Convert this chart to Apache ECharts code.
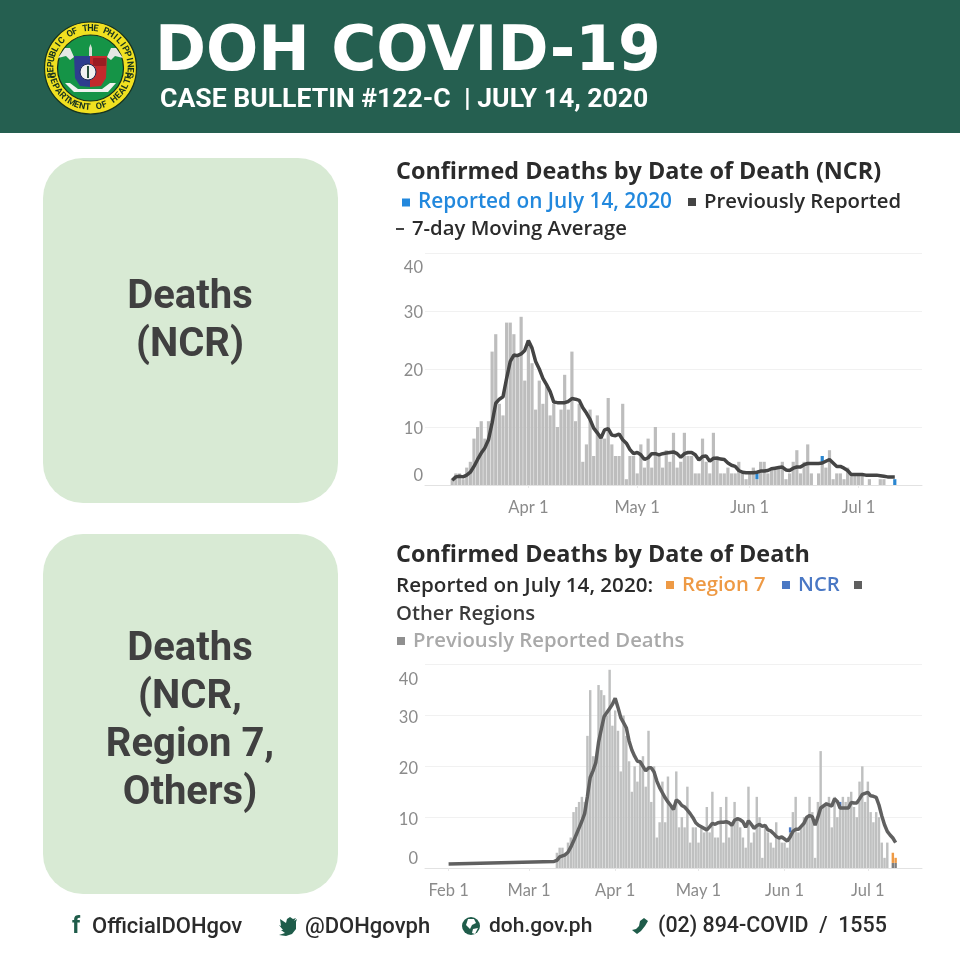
<!DOCTYPE html>
<html><head><meta charset="utf-8">
<style>html,body{margin:0;padding:0;background:#fff}#c{width:960px;height:960px}</style>
<script src="https://cdn.jsdelivr.net/npm/echarts@6/dist/echarts.min.js"></script>
</head><body><div id="c"></div>
<script>
// ---------- data (both series start on Mar 11) ----------
const yTicks = [0, 10, 20, 30, 40];
const tickLabelsNcr = ['Apr 1', 'May 1', 'Jun 1', 'Jul 1'];
const tickLabelsAll = ['Feb 1', 'Mar 1', 'Apr 1', 'May 1', 'Jun 1', 'Jul 1'];

const ncrPrevious = [1,2,2,1,3,4,8,10,11,8,11,23,26,14,12,28,28,26,22,29,18,25,21,13,18,14,17,12,14,10,
  13,19,13,23,11,14,4,7,13,5,12,8,8,15,7,5,5,14,1,5,5,2,7,3,8,3,10,
  5,3,6,4,9,3,4,9,5,5,2,2,8,4,2,9,5,2,2,3,2,2,4,2,1,2,3,1,4,4,2,3,3,3,4,1,2,4,6,2,4,7,2,0,2,4,3,6,1,2,2,1,3,2,2,2,2,0,1,0,0,1,1,0,0,0];
const ncrAverage = [.8,1.4,1.5,1.4,1.7,2.2,3.2,4.4,5.5,6.4,7.8,10.7,14.1,14.8,15.2,18.4,21.3,22.4,22.3,22.6,
  23.2,24.9,23.6,21.3,20,18.4,17.3,16.1,14.3,14.2,14.2,14.2,14.4,14.9,14.8,14.6,13.3,12.4,11.3,9.8,
  9,8.1,9.5,9.7,8.6,8.5,8.8,7.8,7.2,6.1,5.4,5.6,5.2,4.4,4.7,5.4,5.4,
  5.2,5.4,5.5,5.6,5.7,5.4,4.8,5.4,5.6,5.6,5.2,4.3,4.9,5,4.1,4.6,4.6,4.5,4.4,3.8,3.4,3.2,2.5,2.2,2.1,
  2.1,2.1,2.2,2.4,2.4,2.5,2.8,2.9,3,3.1,2.6,2.5,2.9,3.1,3.1,3.5,3.7,3.7,3.7,3.7,3.8,4.1,4.4,3.8,3.2,
  3.2,2.9,2.5,1.8,1.8,1.8,1.8,1.7,1.7,1.7,1.7,1.6,1.5,1.4,1.4,1.4];
const ncrReportedDays = [84, 102, 122];   // one newly reported death on each of these days

const allPrevious = [3,4,4,3,5,6,11,12,13,14,13,26,35,22,22,36,35,34,30,39,28,31,27,19,30,26,21,15,20,17,
  21,22,16,27,13,20,6,9,17,9,18,12,12,19,8,10,8,16,5,8,8,5,8,7,12,7,15,6,6,12,5,14,6,9,13,10,
  8,6,4,16,5,7,14,10,2,8,7,5,4,9,6,5,5,4,7,11,14,7,8,10,10,14,11,2,13,23,12,13,14,8,14,10,12,14,13,14,
  15,12,10,17,20,13,17,11,9,11,10,5,2,5,0,0,0];
const allAverage = [1.5,2.2,2.4,2.6,3.1,4.1,5.3,6.6,7.9,9.2,10.7,14.1,17.8,19.1,20.7,24.7,27.3,29.8,30.6,31.4,
  32.2,33.4,31.6,29.6,28.6,27.6,25,23.2,22,21,20.9,20,19.1,19.7,19.7,18.9,17.1,15.8,14.8,13.8,13,12.3,11.5,
  13.4,13,12.3,12,11.4,10.7,9.9,8.9,8.4,8.1,7.8,7.5,8.1,8.8,8.6,8.9,9,9,9.1,8.9,8.4,9.4,9.7,
  9.5,9.1,8,9.3,8.6,7.8,8.3,8.6,8.2,8.4,7.5,7.3,6.8,6.2,5.9,6.1,5.7,5.3,6.1,7.2,7.6,7.6,8.2,8.8,10,10.3,10.1,8.4,10,11.8,
  12.2,12.6,12.4,12.2,13.6,13.1,11.8,11.8,11.8,11.8,12.9,12.8,12.8,13.6,14.5,14.7,14.9,14.2,14.1,13.9,12.4,10.3,8.5,7.2,6.5,5.9,5];
const allEarlyAverage = [[8, .8], [46, 1.3]];     // flat start of the line: [day index, value]
const allNcrDays = [84, 102];
const allRegion7 = {121: 2, 122: 1};
const allOther = {121: 1, 122: 1};

// ---------- helpers ----------
const MONTHS = ['Jan','Feb','Mar','Apr','May','Jun','Jul','Aug'];
function days(month, day, n) {
  const out = [];
  for (let i = 0; i < n; i++) { const d = new Date(Date.UTC(2020, month, day + i)); out.push(MONTHS[d.getUTCMonth()] + ' ' + d.getUTCDate()); }
  return out;
}
const ncrDays = days(2, 4, 137);   // Mar 4 ..
const allDays = days(0, 24, 179);  // Jan 24 ..
const pad = (cats, off, arr) => cats.map((_, i) => (i >= off && i - off < arr.length) ? arr[i - off] : null);
const OFF1 = ncrDays.indexOf('Mar 11'), OFF2 = allDays.indexOf('Mar 11');
const fromDays = (list, n) => Array.from({length: n}, (_, i) => list.includes(i) ? 1 : null);
const fromMap = (m, n) => Array.from({length: n}, (_, i) => m[i] !== undefined ? m[i] : null);
const N = ncrPrevious.length;

const early = allDays.map(() => null);
allEarlyAverage.forEach(([i, v]) => early[i] = v);
const allLine = pad(allDays, OFF2, allAverage).map((v, i) => v === null ? early[i] : v);

const xAxisCommon = (cats, labels, grid) => ({
  type: 'category', gridIndex: grid, data: cats, boundaryGap: true,
  axisLine: {show: true, lineStyle: {color: '#e2e2e2', width: 1}},
  axisTick: {show: true, length: 3, alignWithLabel: true, lineStyle: {color: '#e8e8e8'}, interval: (i, v) => labels.includes(v)},
  axisLabel: {interval: (i, v) => labels.includes(v), color: '#8b8b8b', fontFamily: 'Lato', fontSize: 16.5, margin: 14, hideOverlap: false},
  splitLine: {show: false}
});
const labelOffset = {0: -9, 10: 2, 20: 2, 30: 2, 40: 15};
const yAxisCommon = (grid, margin) => ({
  type: 'value', gridIndex: grid, min: 0, max: 40, interval: 10,
  axisLine: {show: false}, axisTick: {show: false},
  splitLine: {show: true, lineStyle: {color: '#f1f1f1', width: 1}},
  axisLabel: {
    margin, color: '#8b8b8b', fontFamily: 'Lato', fontSize: 16.5,
    formatter: v => yTicks.includes(v) ? `{o${v}|${v}}` : '',
    rich: Object.fromEntries(yTicks.map(t => {
      const o = labelOffset[t];
      return ['o' + t, {color: '#8b8b8b', fontFamily: 'Lato', fontSize: 16.5,
        padding: o > 0 ? [2 * o, 0, 0, 0] : [0, 0, -2 * o, 0]}];
    }))
  }
});
const bar = (name, xi, data, color) => ({name, type: 'bar', xAxisIndex: xi, yAxisIndex: xi, stack: 's' + xi, data,
  barWidth: '88%', itemStyle: {color}, emphasis: {disabled: true}, animation: false});

// ---------- static page furniture (header, panels, footer, seal) ----------
const TXT = (text, x, y, font, fill, align) => ({type: 'text', x, y, silent: true,
  style: {text, font, fill, align: align || 'left', verticalAlign: 'middle'}});
const POLY = (points, fill) => ({type: 'polygon', shape: {points}, style: {fill}, silent: true});
const gfx = [];
gfx.push({type: 'rect', shape: {x: 0, y: 0, width: 960, height: 133}, style: {fill: '#255f50'}, silent: true});
gfx.push({type: 'rect', shape: {x: 43, y: 158, width: 295, height: 345, r: 40}, style: {fill: '#d8ead4'}, silent: true});
gfx.push({type: 'rect', shape: {x: 43, y: 534, width: 295, height: 360, r: 40}, style: {fill: '#d8ead4'}, silent: true});

// seal
const cx = 90.5, cy = 68;
gfx.push({type: 'circle', shape: {cx, cy, r: 46}, style: {fill: '#f0e020', stroke: '#16331f', lineWidth: 1.2}, silent: true});
gfx.push({type: 'circle', shape: {cx, cy, r: 33}, style: {fill: '#159447', stroke: '#14301c', lineWidth: 1.2}, silent: true});
gfx.push(POLY([[74,56],[90,56],[90,87],[80,86],[75,78]], '#2d3d8e'));
gfx.push(POLY([[90,56],[107,56],[106,78],[101,86],[90,87]], '#c22a2c'));
gfx.push({type: 'rect', shape: {x: 93, y: 58, width: 13, height: 8, r: 1}, style: {fill: '#9b1c22'}, silent: true});
gfx.push({type: 'circle', shape: {cx: 88, cy: 72, r: 8}, style: {fill: '#f0f0f0', stroke: '#1b2a55', lineWidth: 1}, silent: true});
gfx.push({type: 'rect', shape: {x: 87, y: 66, width: 2, height: 12}, style: {fill: '#28503c'}, silent: true});
gfx.push(POLY([[74,57],[70,48],[65,48],[58,58],[66,56],[70,60]], '#e4e8e4'));
gfx.push(POLY([[107,57],[111,48],[116,48],[123,58],[115,56],[111,60]], '#e4e8e4'));
gfx.push(POLY([[89,56],[89,48],[90.5,44],[92,48],[92,56]], '#d6ded6'));
gfx.push(POLY([[65,83],[70,83],[78,89],[102,89],[110,83],[116,83],[108,92],[74,92]], '#eef2ee'));
const ringFont = 'bold 9px Roboto';
function ringText(str, span, bottom) {
  const chars = [...str];
  chars.forEach((ch, i) => {
    if (ch === ' ') return;
    const a = -span / 2 + span * i / (chars.length - 1);
    const R = 39.5;
    gfx.push(bottom
      ? {type: 'text', x: cx + R * Math.sin(a), y: cy + R * Math.cos(a), rotation: a, silent: true, style: {text: ch, font: ringFont, fill: '#16331f', align: 'center', verticalAlign: 'middle'}}
      : {type: 'text', x: cx + R * Math.sin(a), y: cy - R * Math.cos(a), rotation: -a, silent: true, style: {text: ch, font: ringFont, fill: '#16331f', align: 'center', verticalAlign: 'middle'}});
  });
}
ringText('REPUBLIC OF THE PHILIPPINES', 3.5, false);
ringText('DEPARTMENT OF HEALTH', 2.75, true);

gfx.push(TXT('DOH COVID-19', 155, 54, '800 61.5px "DejaVu Sans"', '#ffffff'));
gfx.push(TXT('CASE BULLETIN #122-C  | JULY 14, 2020', 160, 100, '700 26.6px Roboto', '#ffffff'));

['Deaths', '(NCR)'].forEach((t, i) => gfx.push(TXT(t, 190, 298 + i * 48, '700 40px Roboto', '#404040', 'center')));
['Deaths', '(NCR,', 'Region 7,', 'Others)'].forEach((t, i) => gfx.push(TXT(t, 190, 650 + i * 48, '700 40px Roboto', '#404040', 'center')));

const titleFont = '700 23.4px "Open Sans"';
gfx.push(TXT('Confirmed Deaths by Date of Death (NCR)', 396, 172, titleFont, '#2b2b2b'));
gfx.push(TXT('Confirmed Deaths by Date of Death', 396, 555, titleFont, '#2b2b2b'));
gfx.push(TXT('Reported on July 14, 2020:', 396, 586, '600 20.6px "Open Sans"', '#2b2b2b'));
gfx.push({type: 'rect', shape: {x: 854, y: 581, width: 8, height: 8}, style: {fill: '#5f5f5f'}, silent: true});
gfx.push(TXT('Other Regions', 396, 614, '600 20.3px "Open Sans"', '#3a3a3a'));

// footer
const ic = '#1f5c4a', footFill = '#2b2b2b';
gfx.push(TXT('f', 72, 927, '700 23px Roboto', ic));
gfx.push(TXT('OfficialDOHgov', 92, 927, '500 22px Roboto', footFill));
gfx.push(POLY([[297,919],[294,921],[296,918],[293,919],[290,917],[287,919],[286,923],[280,919],[281,926],[279,925],[283,930],[281,930],[285,933],[279,935],[286,936],[292,934],[296,929],[296,922]], ic));
gfx.push(TXT('@DOHgovph', 305, 927, '500 22px Roboto', footFill));
gfx.push({type: 'circle', shape: {cx: 471, cy: 926, r: 9}, style: {fill: ic}, silent: true});
gfx.push(POLY([[468,919],[474,919],[476,923],[472,925],[470,929],[466,925]], '#ffffff'));
gfx.push(POLY([[473,929],[478,928],[475,934],[472,933]], '#ffffff'));
gfx.push(TXT('doh.gov.ph', 489, 927, '500 21px Roboto', footFill));
gfx.push(POLY([[644,918],[648,921],[645,926],[641,931],[637,934],[632,930],[636,929],[639,926],[640,921]], ic));
gfx.push(TXT('(02) 894-COVID  /  1555', 658, 927, '500 21.4px Roboto', footFill));

// ---------- chart ----------
const legendText = (color, fontSize) => ({color, fontFamily: 'Open Sans', fontWeight: 600, fontSize, padding: [0, 0, 0, 3]});
const leg = (left, top, name, color, fontSize, iconColor, extra) => Object.assign({
  left, top, orient: 'horizontal', selectedMode: false, padding: 0, itemGap: 0, itemWidth: 8, itemHeight: 8,
  icon: 'rect', data: [name], textStyle: legendText(color, fontSize),
  itemStyle: {color: iconColor}
}, extra || {});

const option = {
  animation: false,
  backgroundColor: '#ffffff',
  tooltip: {show: false},
  graphic: {elements: gfx},
  legend: [
    leg(402, 192, 'Reported on July 14, 2020', '#2288dd', 20.8, '#2288dd'),
    leg(688, 192, 'Previously Reported', '#2b2b2b', 20.3, '#444444'),
    leg(396, 219, '7-day Moving Average', '#2b2b2b', 20.3, '#444444', {itemHeight: 2}),
    leg(666, 575, 'Region 7', '#ee9a45', 20.3, '#ee9a45'),
    leg(782, 575, 'NCR', '#4a78c4', 20.3, '#4a78c4'),
    leg(397, 631, 'Previously Reported Deaths', '#a9a9a9', 20.3, '#8f8f8f')
  ],
  grid: [
    {left: 425, top: 253, width: 497, height: 232, containLabel: false},
    {left: 425, top: 664.7, width: 497, height: 203.3, containLabel: false}
  ],
  xAxis: [xAxisCommon(ncrDays, tickLabelsNcr, 0), xAxisCommon(allDays, tickLabelsAll, 1)],
  yAxis: [yAxisCommon(0, 2), yAxisCommon(1, 7)],
  series: [
    bar('Previously Reported', 0, pad(ncrDays, OFF1, ncrPrevious), '#bdbdbd'),
    bar('Reported on July 14, 2020', 0, pad(ncrDays, OFF1, fromDays(ncrReportedDays, N)), '#2a86d0'),
    {name: '7-day Moving Average', type: 'line', xAxisIndex: 0, yAxisIndex: 0, data: pad(ncrDays, OFF1, ncrAverage),
      symbol: 'none', lineStyle: {color: '#444444', width: 3.5}, itemStyle: {color: '#444444'}, z: 5, animation: false},
    bar('Previously Reported Deaths', 1, pad(allDays, OFF2, allPrevious), '#bfc0c0'),
    bar('Other Regions', 1, pad(allDays, OFF2, fromMap(allOther, N)), '#7f7f7f'),
    bar('NCR', 1, pad(allDays, OFF2, fromDays(allNcrDays, N)), '#4a78c4'),
    bar('Region 7', 1, pad(allDays, OFF2, fromMap(allRegion7, N)), '#ee9a45'),
    {name: '7-day Moving Average (all regions)', type: 'line', xAxisIndex: 1, yAxisIndex: 1, data: allLine, connectNulls: true,
      symbol: 'none', lineStyle: {color: '#606060', width: 3.5}, itemStyle: {color: '#606060'}, z: 5, animation: false}
  ]
};
echarts.init(document.getElementById('c'), null, {renderer: 'canvas'}).setOption(option);
</script></body></html>
